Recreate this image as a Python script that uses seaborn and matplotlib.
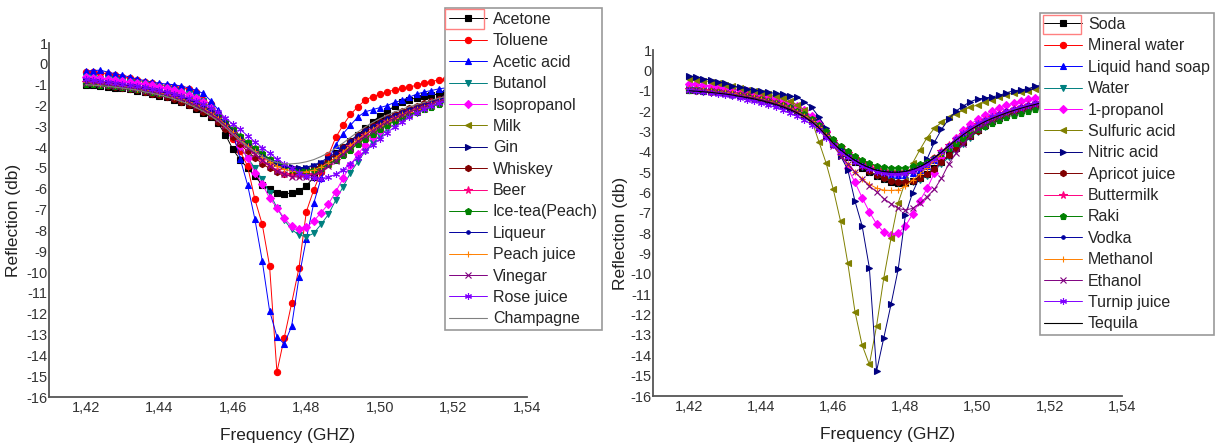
import numpy as np
import pandas as pd
import matplotlib
matplotlib.use("Agg")
import matplotlib.pyplot as plt
import seaborn as sns
from matplotlib.patches import Rectangle
from matplotlib.ticker import FuncFormatter, MultipleLocator

############################################
# Data
############################################
freq = [1.420, 1.422, 1.424, 1.426, 1.428, 1.430, 1.432, 1.434, 1.436, 1.438,
        1.440, 1.442, 1.444, 1.446, 1.448, 1.450, 1.452, 1.454, 1.456, 1.458,
        1.460, 1.462, 1.464, 1.466, 1.468, 1.470, 1.472, 1.474, 1.476, 1.478,
        1.480, 1.482, 1.484, 1.486, 1.488, 1.490, 1.492, 1.494, 1.496, 1.498,
        1.500, 1.502, 1.504, 1.506, 1.508, 1.510, 1.512, 1.514, 1.516, 1.518,
        1.520]

# left panel
acetone = [-1.0, -1.03, -1.07, -1.1, -1.14, -1.18, -1.23, -1.29, -1.36, -1.44,
           -1.52, -1.61, -1.72, -1.84, -1.98, -2.15, -2.34, -2.57, -2.85, -3.4,
           -4.1, -4.6, -5.0, -5.4, -5.8, -6.0, -6.2, -6.25, -6.2, -6.1,
           -5.85, -5.45, -5.0, -4.65, -4.3, -4.0, -3.7, -3.4, -3.1, -2.78,
           -2.5, -2.27, -2.03, -1.85, -1.72, -1.63, -1.56, -1.5, -1.45, -1.4,
           -1.36]
toluene = [-0.38, -0.38, -0.42, -0.48, -0.55, -0.62, -0.7, -0.78, -0.86, -0.93,
           -1.0, -1.05, -1.1, -1.15, -1.22, -1.35, -1.74, -1.93, -2.4, -3.0,
           -3.6, -4.2, -4.9, -6.5, -7.7, -9.7, -14.8, -13.15, -11.5, -9.8,
           -7.1, -6.06, -5.2, -4.4, -3.53, -2.94, -2.43, -2.06, -1.74, -1.57,
           -1.46, -1.34, -1.25, -1.18, -1.12, -1.02, -0.91, -0.85, -0.77, -0.72,
           -0.68]
acetic_acid = [-0.35, -0.32, -0.3, -0.4, -0.47, -0.55, -0.63, -0.73, -0.8, -0.87,
               -0.93, -0.97, -1.0, -1.07, -1.15, -1.27, -1.42, -1.77, -2.2, -2.75,
               -3.3, -4.55, -5.8, -7.45, -9.45, -11.85, -13.1, -13.45, -12.6, -10.25,
               -8.4, -6.7, -5.5, -4.6, -3.9, -3.35, -2.95, -2.55, -2.3, -2.2,
               -2.1, -2.0, -1.85, -1.75, -1.6, -1.45, -1.35, -1.28, -1.2, -1.15,
               -1.1]
butanol = [-0.65, -0.68, -0.71, -0.75, -0.79, -0.83, -0.88, -0.93, -0.98, -1.04,
           -1.1, -1.17, -1.25, -1.34, -1.45, -1.6, -1.8, -2.1, -2.6, -3.0,
           -3.4, -4.0, -4.5, -5.0, -5.55, -6.2, -6.9, -7.5, -7.95, -8.22,
           -8.3, -8.14, -7.71, -7.23, -6.54, -5.9, -5.23, -4.7, -4.2, -3.8,
           -3.45, -3.15, -2.9, -2.67, -2.47, -2.28, -2.1, -1.95, -1.8, -1.67,
           -1.55]
isopropanol = [-0.65, -0.67, -0.7, -0.73, -0.77, -0.81, -0.86, -0.91, -0.97, -1.03,
               -1.1, -1.17, -1.26, -1.36, -1.48, -1.63, -1.82, -2.1, -2.5, -2.95,
               -3.4, -3.95, -4.5, -5.25, -5.75, -6.45, -6.9, -7.42, -7.8, -7.93,
               -7.85, -7.55, -7.15, -6.73, -6.14, -5.5, -4.85, -4.35, -3.9, -3.5,
               -3.2, -2.92, -2.68, -2.48, -2.3, -2.13, -1.98, -1.85, -1.72, -1.61,
               -1.5]
milk = [-0.85, -0.88, -0.92, -0.96, -1.0, -1.05, -1.1, -1.16, -1.22, -1.28,
        -1.33, -1.41, -1.5, -1.6, -1.72, -1.87, -2.04, -2.25, -2.5, -2.8,
        -3.15, -3.5, -3.82, -4.1, -4.36, -4.6, -4.8, -4.95, -5.05, -5.1,
        -5.1, -5.05, -4.95, -4.8, -4.6, -4.35, -4.08, -3.8, -3.55, -3.32,
        -3.1, -2.9, -2.72, -2.56, -2.42, -2.3, -2.17, -2.03, -1.9, -1.78,
        -1.66]
gin = [-0.8, -0.83, -0.87, -0.91, -0.95, -1.0, -1.05, -1.11, -1.18, -1.25,
       -1.32, -1.4, -1.49, -1.6, -1.73, -1.88, -2.05, -2.27, -2.52, -2.83,
       -3.2, -3.55, -3.85, -4.12, -4.38, -4.6, -4.78, -4.9, -4.97, -5.0,
       -4.98, -4.9, -4.76, -4.57, -4.35, -4.08, -3.8, -3.52, -3.27, -3.05,
       -2.85, -2.67, -2.5, -2.35, -2.22, -2.1, -1.98, -1.86, -1.74, -1.63,
       -1.53]
whiskey = [-0.95, -0.98, -1.02, -1.06, -1.1, -1.15, -1.2, -1.27, -1.35, -1.43,
           -1.5, -1.6, -1.7, -1.82, -1.96, -2.12, -2.3, -2.52, -2.8, -3.12,
           -3.5, -3.85, -4.2, -4.5, -4.8, -5.02, -5.18, -5.28, -5.3, -5.28,
           -5.2, -5.05, -4.85, -4.6, -4.32, -4.0, -3.7, -3.42, -3.17, -2.95,
           -2.75, -2.57, -2.4, -2.26, -2.13, -2.02, -1.9, -1.78, -1.67, -1.57,
           -1.48]
beer = [-0.85, -0.88, -0.92, -0.96, -1.0, -1.05, -1.1, -1.16, -1.23, -1.3,
        -1.37, -1.45, -1.55, -1.66, -1.8, -1.96, -2.14, -2.36, -2.62, -2.95,
        -3.32, -3.68, -4.0, -4.3, -4.6, -4.87, -5.1, -5.27, -5.37, -5.4,
        -5.37, -5.27, -5.1, -4.88, -4.6, -4.28, -3.96, -3.66, -3.4, -3.16,
        -2.94, -2.74, -2.57, -2.42, -2.28, -2.15, -2.03, -1.9, -1.78, -1.66,
        -1.55]
ice_tea = [-0.95, -0.97, -1.0, -1.03, -1.07, -1.11, -1.16, -1.21, -1.27, -1.33,
           -1.4, -1.47, -1.56, -1.66, -1.78, -1.92, -2.08, -2.27, -2.5, -2.78,
           -3.12, -3.45, -3.75, -4.03, -4.3, -4.55, -4.75, -4.92, -5.03, -5.1,
           -5.12, -5.08, -4.98, -4.82, -4.62, -4.38, -4.12, -3.85, -3.6, -3.36,
           -3.14, -2.94, -2.76, -2.6, -2.45, -2.32, -2.19, -2.06, -1.93, -1.8,
           -1.68]
liqueur = [-0.85, -0.88, -0.91, -0.95, -0.99, -1.03, -1.08, -1.14, -1.2, -1.27,
           -1.34, -1.42, -1.51, -1.62, -1.75, -1.9, -2.07, -2.28, -2.53, -2.85,
           -3.22, -3.58, -3.9, -4.18, -4.43, -4.65, -4.82, -4.93, -4.99, -5.0,
           -4.96, -4.86, -4.7, -4.5, -4.26, -3.98, -3.7, -3.42, -3.18, -2.97,
           -2.78, -2.6, -2.45, -2.31, -2.18, -2.07, -1.96, -1.84, -1.72, -1.61,
           -1.5]
peach_juice = [-0.88, -0.91, -0.95, -0.99, -1.03, -1.08, -1.13, -1.19, -1.25, -1.32,
               -1.39, -1.47, -1.57, -1.68, -1.81, -1.96, -2.13, -2.34, -2.6, -2.92,
               -3.28, -3.62, -3.93, -4.2, -4.46, -4.7, -4.9, -5.05, -5.15, -5.2,
               -5.18, -5.1, -4.95, -4.75, -4.5, -4.22, -3.92, -3.63, -3.38, -3.15,
               -2.94, -2.75, -2.58, -2.43, -2.29, -2.17, -2.05, -1.92, -1.8, -1.68,
               -1.57]
vinegar = [-0.9, -0.93, -0.97, -1.01, -1.05, -1.1, -1.15, -1.21, -1.28, -1.35,
           -1.42, -1.5, -1.6, -1.71, -1.84, -2.0, -2.18, -2.4, -2.66, -2.98,
           -3.35, -3.7, -4.02, -4.32, -4.62, -4.9, -5.13, -5.3, -5.41, -5.45,
           -5.42, -5.32, -5.15, -4.92, -4.65, -4.34, -4.02, -3.72, -3.45, -3.2,
           -2.98, -2.78, -2.6, -2.45, -2.31, -2.18, -2.06, -1.93, -1.81, -1.69,
           -1.58]
rose_juice = [-0.75, -0.78, -0.82, -0.86, -0.9, -0.95, -1.0, -1.06, -1.12, -1.19,
              -1.26, -1.34, -1.43, -1.53, -1.65, -1.78, -1.93, -2.1, -2.3, -2.58,
              -2.9, -3.15, -3.45, -3.74, -4.02, -4.3, -4.55, -4.8, -5.02, -5.22,
              -5.38, -5.5, -5.52, -5.45, -5.3, -5.08, -4.8, -4.5, -4.2, -3.9,
              -3.6, -3.3, -3.03, -2.78, -2.56, -2.36, -2.18, -2.02, -1.88, -1.75,
              -1.63]
champagne = [-1.0, -1.02, -1.05, -1.08, -1.12, -1.16, -1.21, -1.27, -1.34, -1.41,
             -1.49, -1.58, -1.68, -1.8, -1.94, -2.1, -2.28, -2.5, -2.75, -3.04,
             -3.38, -3.7, -3.98, -4.22, -4.45, -4.62, -4.74, -4.8, -4.8, -4.77,
             -4.7, -4.6, -4.45, -4.27, -4.05, -3.8, -3.53, -3.27, -3.03, -2.82,
             -2.63, -2.46, -2.31, -2.18, -2.06, -1.95, -1.85, -1.75, -1.65, -1.56,
             -1.47]

# right panel
soda = [-0.95, -0.97, -1.0, -1.03, -1.06, -1.1, -1.15, -1.2, -1.26, -1.33,
        -1.4, -1.48, -1.58, -1.7, -1.85, -2.02, -2.22, -2.48, -2.8, -3.2,
        -3.6, -3.95, -4.25, -4.52, -4.78, -5.0, -5.2, -5.35, -5.48, -5.55,
        -5.53, -5.45, -5.3, -5.08, -4.8, -4.48, -4.15, -3.82, -3.5, -3.2,
        -2.93, -2.7, -2.5, -2.33, -2.18, -2.05, -1.93, -1.82, -1.72, -1.63,
        -1.55]
mineral_water = [-0.9, -0.92, -0.95, -0.98, -1.01, -1.05, -1.1, -1.15, -1.21, -1.28,
                 -1.35, -1.43, -1.52, -1.63, -1.77, -1.93, -2.12, -2.36, -2.66, -3.02,
                 -3.42, -3.75, -4.03, -4.28, -4.5, -4.68, -4.82, -4.92, -4.98, -5.0,
                 -4.97, -4.88, -4.74, -4.55, -4.3, -4.0, -3.7, -3.4, -3.12, -2.88,
                 -2.67, -2.48, -2.32, -2.18, -2.05, -1.94, -1.84, -1.74, -1.65, -1.56,
                 -1.48]
hand_soap = [-0.92, -0.94, -0.97, -1.0, -1.04, -1.08, -1.13, -1.19, -1.25, -1.32,
             -1.4, -1.48, -1.58, -1.7, -1.84, -2.0, -2.2, -2.44, -2.75, -3.12,
             -3.52, -3.86, -4.15, -4.4, -4.62, -4.8, -4.95, -5.06, -5.12, -5.15,
             -5.12, -5.03, -4.88, -4.68, -4.42, -4.12, -3.8, -3.48, -3.18, -2.92,
             -2.69, -2.49, -2.32, -2.17, -2.04, -1.92, -1.81, -1.71, -1.62, -1.53,
             -1.45]
water = [-0.93, -0.95, -0.98, -1.01, -1.05, -1.09, -1.14, -1.2, -1.26, -1.33,
         -1.41, -1.5, -1.6, -1.72, -1.87, -2.04, -2.25, -2.5, -2.82, -3.2,
         -3.6, -3.95, -4.25, -4.5, -4.75, -4.97, -5.17, -5.33, -5.45, -5.52,
         -5.55, -5.5, -5.38, -5.18, -4.92, -4.6, -4.27, -3.93, -3.6, -3.3,
         -3.02, -2.78, -2.57, -2.39, -2.23, -2.09, -1.97, -1.85, -1.75, -1.65,
         -1.57]
propanol = [-0.65, -0.68, -0.72, -0.76, -0.8, -0.85, -0.9, -0.95, -1.02, -1.1,
            -1.18, -1.27, -1.37, -1.48, -1.6, -1.75, -1.95, -2.25, -2.6, -3.0,
            -3.5, -4.1, -4.8, -5.5, -6.25, -6.95, -7.55, -7.95, -8.1, -8.0,
            -7.65, -7.05, -6.4, -5.8, -5.05, -4.3, -3.75, -3.3, -2.95, -2.65,
            -2.4, -2.2, -2.0, -1.85, -1.72, -1.6, -1.5, -1.42, -1.35, -1.3,
            -1.25]
sulfuric_acid = [-0.4, -0.45, -0.5, -0.55, -0.62, -0.7, -0.78, -0.87, -0.95, -1.02,
                 -1.1, -1.17, -1.25, -1.35, -1.5, -1.7, -1.95, -2.45, -3.5, -4.55,
                 -5.85, -7.4, -9.45, -11.85, -13.5, -14.45, -12.55, -10.2, -8.25, -6.5,
                 -5.45, -4.55, -3.9, -3.3, -2.85, -2.55, -2.3, -2.15, -1.95, -1.8,
                 -1.7, -1.55, -1.45, -1.3, -1.2, -1.1, -1.05, -1.0, -0.9, -0.85,
                 -0.8]
nitric_acid = [-0.28, -0.31, -0.4, -0.48, -0.56, -0.64, -0.75, -0.83, -0.9, -0.97,
               -1.02, -1.08, -1.13, -1.18, -1.26, -1.3, -1.54, -1.82, -2.28, -2.85,
               -3.5, -4.2, -4.87, -6.42, -7.65, -9.7, -14.77, -13.14, -11.5, -9.76,
               -7.1, -6.0, -5.2, -4.35, -3.54, -2.9, -2.39, -2.0, -1.75, -1.54,
               -1.4, -1.36, -1.3, -1.23, -1.1, -1.0, -0.96, -0.9, -0.78, -0.72,
               -0.68]
apricot_juice = [-0.97, -0.99, -1.02, -1.05, -1.08, -1.12, -1.17, -1.22, -1.28, -1.35,
                 -1.42, -1.5, -1.6, -1.72, -1.86, -2.03, -2.23, -2.47, -2.78, -3.15,
                 -3.55, -3.9, -4.2, -4.47, -4.72, -4.95, -5.15, -5.3, -5.42, -5.5,
                 -5.5, -5.43, -5.3, -5.1, -4.84, -4.52, -4.18, -3.85, -3.53, -3.24,
                 -2.98, -2.75, -2.55, -2.38, -2.23, -2.1, -1.98, -1.87, -1.77, -1.68,
                 -1.6]
buttermilk = [-0.9, -0.92, -0.95, -0.98, -1.02, -1.06, -1.11, -1.17, -1.23, -1.3,
              -1.38, -1.46, -1.56, -1.68, -1.82, -1.98, -2.17, -2.4, -2.7, -3.06,
              -3.45, -3.78, -4.06, -4.3, -4.52, -4.7, -4.84, -4.93, -4.98, -5.0,
              -4.97, -4.88, -4.73, -4.53, -4.28, -3.98, -3.67, -3.37, -3.1, -2.86,
              -2.65, -2.46, -2.3, -2.16, -2.03, -1.92, -1.82, -1.72, -1.63, -1.55,
              -1.47]
raki = [-0.95, -0.97, -1.0, -1.03, -1.07, -1.11, -1.16, -1.21, -1.27, -1.34,
        -1.41, -1.49, -1.58, -1.69, -1.82, -1.97, -2.15, -2.38, -2.66, -3.0,
        -3.38, -3.7, -3.97, -4.2, -4.4, -4.56, -4.68, -4.76, -4.8, -4.8,
        -4.78, -4.72, -4.62, -4.48, -4.3, -4.08, -3.83, -3.57, -3.32, -3.1,
        -2.9, -2.72, -2.56, -2.42, -2.3, -2.19, -2.08, -1.98, -1.89, -1.81,
        -1.74]
vodka = [-0.97, -1.0, -1.04, -1.08, -1.13, -1.18, -1.24, -1.31, -1.38, -1.46,
         -1.54, -1.63, -1.73, -1.85, -1.98, -2.14, -2.33, -2.56, -2.85, -3.2,
         -3.6, -3.93, -4.2, -4.43, -4.63, -4.8, -4.92, -5.0, -5.05, -5.05,
         -5.0, -4.9, -4.75, -4.55, -4.3, -4.0, -3.68, -3.38, -3.1, -2.85,
         -2.63, -2.44, -2.28, -2.14, -2.01, -1.9, -1.8, -1.7, -1.61, -1.53,
         -1.45]
methanol = [-0.92, -0.94, -0.97, -1.0, -1.04, -1.08, -1.13, -1.19, -1.25, -1.32,
            -1.4, -1.49, -1.59, -1.71, -1.85, -2.02, -2.22, -2.47, -2.78, -3.18,
            -3.65, -4.15, -4.6, -5.0, -5.35, -5.6, -5.78, -5.88, -5.9, -5.87,
            -5.7, -5.4, -5.1, -4.78, -4.45, -4.1, -3.75, -3.42, -3.12, -2.86,
            -2.64, -2.45, -2.29, -2.15, -2.02, -1.91, -1.81, -1.71, -1.62, -1.54,
            -1.47]
ethanol = [-0.95, -0.97, -1.0, -1.03, -1.07, -1.11, -1.16, -1.22, -1.28, -1.35,
           -1.43, -1.52, -1.62, -1.74, -1.88, -2.05, -2.25, -2.5, -2.8, -3.17,
           -3.7, -4.2, -4.6, -5.0, -5.35, -5.68, -5.96, -6.3, -6.55, -6.78,
           -6.86, -6.78, -6.53, -6.2, -5.85, -5.3, -4.6, -4.08, -3.6, -3.2,
           -2.9, -2.65, -2.45, -2.28, -2.14, -2.02, -1.91, -1.81, -1.72, -1.64,
           -1.57]
turnip_juice = [-0.98, -1.01, -1.05, -1.1, -1.15, -1.21, -1.28, -1.35, -1.43, -1.52,
                -1.61, -1.71, -1.82, -1.95, -2.09, -2.25, -2.44, -2.67, -2.95, -3.3,
                -3.68, -4.0, -4.27, -4.5, -4.7, -4.86, -4.98, -5.05, -5.1, -5.1,
                -5.05, -4.95, -4.8, -4.6, -4.33, -4.02, -3.7, -3.38, -3.08, -2.82,
                -2.6, -2.42, -2.26, -2.12, -2.0, -1.89, -1.79, -1.7, -1.61, -1.53,
                -1.46]
tequila = [-1.0, -1.02, -1.05, -1.08, -1.12, -1.16, -1.21, -1.27, -1.33, -1.4,
           -1.48, -1.57, -1.67, -1.79, -1.93, -2.09, -2.28, -2.52, -2.82, -3.18,
           -3.58, -3.9, -4.18, -4.42, -4.62, -4.78, -4.9, -4.97, -5.0, -5.0,
           -4.96, -4.87, -4.73, -4.54, -4.3, -4.02, -3.72, -3.43, -3.16, -2.92,
           -2.71, -2.52, -2.36, -2.22, -2.09, -1.97, -1.86, -1.76, -1.67, -1.58,
           -1.5]

left_names = ['Acetone', 'Toluene', 'Acetic acid', 'Butanol', 'Isopropanol', 'Milk',
              'Gin', 'Whiskey', 'Beer', 'Ice-tea(Peach)', 'Liqueur', 'Peach juice',
              'Vinegar', 'Rose juice', 'Champagne']
left_series = [acetone, toluene, acetic_acid, butanol, isopropanol, milk, gin, whiskey,
               beer, ice_tea, liqueur, peach_juice, vinegar, rose_juice, champagne]
right_names = ['Soda', 'Mineral water', 'Liquid hand soap', 'Water', '1-propanol',
               'Sulfuric acid', 'Nitric acid', 'Apricot juice', 'Buttermilk', 'Raki',
               'Vodka', 'Methanol', 'Ethanol', 'Turnip juice', 'Tequila']
right_series = [soda, mineral_water, hand_soap, water, propanol, sulfuric_acid,
                nitric_acid, apricot_juice, buttermilk, raki, vodka, methanol,
                ethanol, turnip_juice, tequila]

# Origin-like colour / symbol order
colors = ['#000000', '#FF0000', '#0000FF', '#008080', '#FF00FF', '#808000', '#000080',
          '#800000', '#FF0080', '#008000', '#0000A0', '#FF8000', '#800080', '#8000FF']
markers = ['s', 'o', '^', 'v', 'D', '<', '>', 'h', '*', 'p', '.', '+', 'x', (6, 2, 0)]
msizes = [4.5, 4.5, 5, 5, 4, 5, 5, 4.5, 5.5, 5, 5, 5, 4.5, 5]
left_last = '#808080'
right_last = '#000000'

############################################
# Plotting
############################################
sns.set_style("white")
plt.rcParams['font.family'] = ['Liberation Sans', 'DejaVu Sans']
plt.rcParams['axes.unicode_minus'] = False

fig = plt.figure(figsize=(12.24, 4.43), dpi=100)
ax1 = fig.add_axes([0.040, 0.1038, 0.3905, 0.799])
ax2 = fig.add_axes([0.5335, 0.106, 0.383, 0.781])


def draw_panel(ax, names, series, last_color):
    for k, (name, vals) in enumerate(zip(names, series)):
        if k < 14:
            sns.lineplot(x=freq, y=vals, ax=ax, color=colors[k], marker=markers[k],
                         markersize=msizes[k], markeredgecolor=colors[k],
                         markeredgewidth=0.8, linewidth=0.7, legend=False)
        else:
            sns.lineplot(x=freq, y=vals, ax=ax, color=last_color, linewidth=0.8,
                         legend=False)
    ax.set_xlim(1.41, 1.54)
    ax.set_ylim(-16, 1)
    ax.xaxis.set_major_locator(MultipleLocator(0.02))
    ax.yaxis.set_major_locator(MultipleLocator(1))
    ax.xaxis.set_major_formatter(FuncFormatter(lambda v, p: f"{v:.2f}".replace('.', ',')))
    ax.yaxis.set_major_formatter(FuncFormatter(lambda v, p: f"{int(round(v))}"))
    ax.tick_params(length=0, labelsize=10.5, colors='#333333')
    ax.tick_params(axis='y', pad=1)
    ax.tick_params(axis='x', pad=3)
    sns.despine(ax=ax)
    for s in ['left', 'bottom']:
        ax.spines[s].set_color('#555555')
        ax.spines[s].set_linewidth(1.3)
    ax.set_xlabel('Frequency (GHZ)', fontsize=12.5, color='#222222')
    ax.set_ylabel('Reflection (db)', fontsize=12.5, color='#222222')
    return list(ax.get_lines())


h1 = draw_panel(ax1, left_names, left_series, left_last)
h2 = draw_panel(ax2, right_names, right_series, right_last)

ax1.xaxis.set_label_coords(0.5, -0.088)
ax1.yaxis.set_label_coords(-0.058, 0.5)
ax2.xaxis.set_label_coords(0.5, -0.09)
ax2.yaxis.set_label_coords(-0.053, 0.47)

leg_kw = dict(loc='upper left', frameon=True, fancybox=False, fontsize=11.5,
              handlelength=2.4, handletextpad=0.35, labelspacing=0.4,
              borderpad=0.25, borderaxespad=0, framealpha=1)
leg1 = fig.legend(h1, left_names, bbox_to_anchor=(445 / 1224, 1 - 8 / 443), **leg_kw)
leg2 = fig.legend(h2, right_names, bbox_to_anchor=(1040 / 1224, 1 - 13 / 443), **leg_kw)
for leg in (leg1, leg2):
    leg.get_frame().set_edgecolor('#999999')
    leg.get_frame().set_linewidth(1.2)
    leg.set_zorder(5)

# red selection box around the first legend symbol
for (x0, y0, x1, y1) in [(445, 9, 484, 29), (1043, 15, 1081, 34)]:
    fig.add_artist(Rectangle((x0 / 1224, 1 - y1 / 443), (x1 - x0) / 1224, (y1 - y0) / 443,
                             transform=fig.transFigure, fill=False,
                             edgecolor='#FF8080', linewidth=1, zorder=10))

plt.savefig('out.png', dpi=100)
